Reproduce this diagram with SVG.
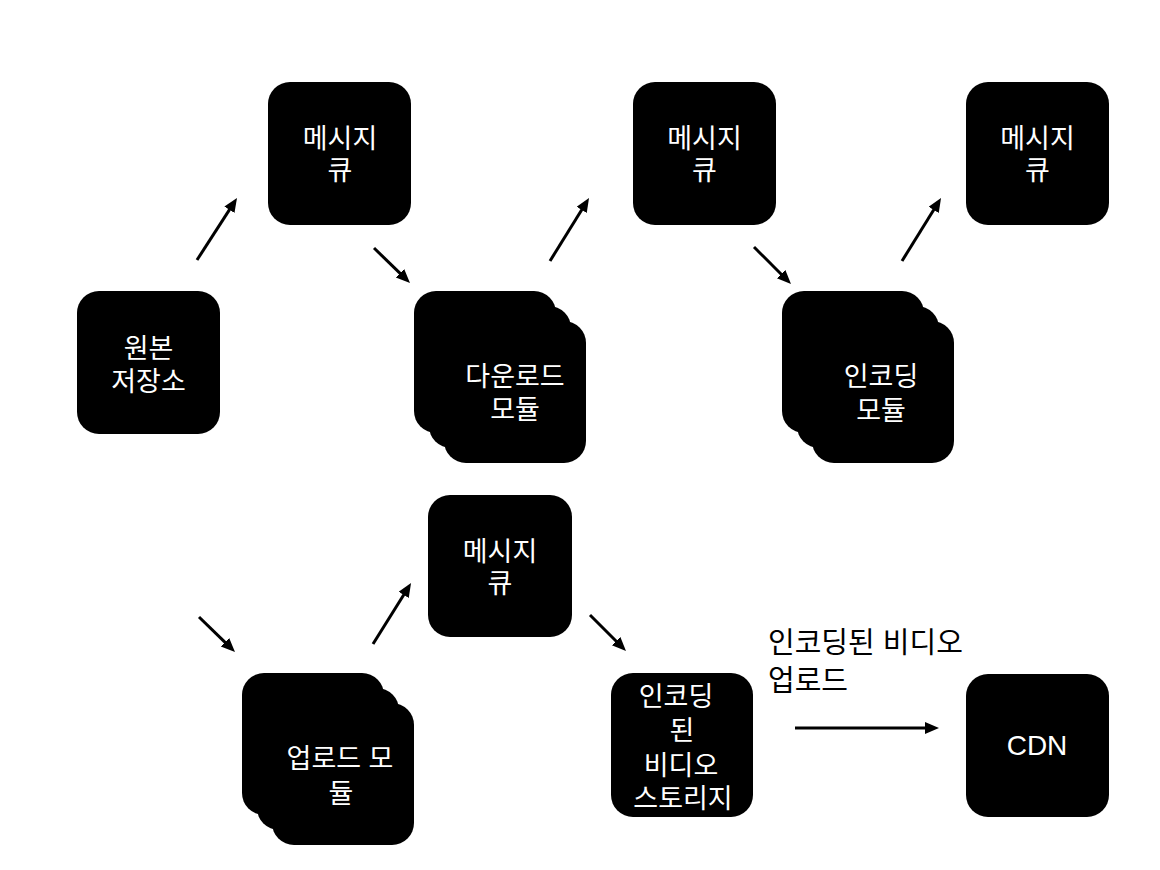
<svg xmlns="http://www.w3.org/2000/svg" width="1160" height="870" viewBox="0 0 1160 870">
<style>
.box{fill:#000}
.t{fill:#fff;font-family:"Liberation Sans","Noto Sans CJK KR",sans-serif;font-size:27px;text-anchor:middle;dominant-baseline:central}
.cdn{font-size:28px}
.lbl{fill:#000;font-family:"Liberation Sans","Noto Sans CJK KR",sans-serif;font-size:29px;dominant-baseline:central}
.c{stroke:#000;stroke-width:3;fill:none;marker-end:url(#ah)}
</style>
<defs>
<marker id="ah" markerUnits="userSpaceOnUse" markerWidth="16" markerHeight="14" refX="2" refY="6" orient="auto">
<path d="M0,0 L14,6 L0,12 z" fill="#000"/>
</marker>
</defs>
<rect width="1160" height="870" fill="#fff"/>
<g id="connectors">
<line class="c" x1="197" y1="260" x2="230.5" y2="208.1"/>
<line class="c" x1="374" y1="248" x2="401.4" y2="274.6"/>
<line class="c" x1="550" y1="261" x2="582.7" y2="208.2"/>
<line class="c" x1="754" y1="247" x2="782.5" y2="275.5"/>
<line class="c" x1="902" y1="261" x2="934.7" y2="208.2"/>
<line class="c" x1="199" y1="617" x2="226.4" y2="643.6"/>
<line class="c" x1="373" y1="644" x2="404.7" y2="593.2"/>
<line class="c" x1="590" y1="615" x2="617.5" y2="642.5"/>
<line class="c" x1="795" y1="728" x2="927" y2="728"/>
</g>
<g id="source-storage">
<rect class="box" x="77" y="291" width="143" height="143" rx="22"/>
<text class="t"><tspan x="148.5" y="348.5">원본</tspan><tspan x="148.5" y="382">저장소</tspan></text>
</g>
<g id="mq1">
<rect class="box" x="268" y="82" width="143" height="143" rx="22"/>
<text class="t"><tspan x="340" y="138.5">메시지</tspan><tspan x="340" y="170.5">큐</tspan></text>
</g>
<g id="mq2">
<rect class="box" x="633" y="82" width="143" height="143" rx="22"/>
<text class="t"><tspan x="704.5" y="138.5">메시지</tspan><tspan x="704.5" y="170.5">큐</tspan></text>
</g>
<g id="mq3">
<rect class="box" x="966" y="82" width="143" height="143" rx="22"/>
<text class="t"><tspan x="1037.5" y="138.5">메시지</tspan><tspan x="1037.5" y="170.5">큐</tspan></text>
</g>
<g id="download-module">
<rect class="box" x="444" y="321" width="142" height="142" rx="22"/>
<rect class="box" x="429" y="306" width="142" height="142" rx="22"/>
<rect class="box" x="414" y="291" width="142" height="142" rx="22"/>
<text class="t"><tspan x="515" y="377">다운로드</tspan><tspan x="515" y="410">모듈</tspan></text>
</g>
<g id="encode-module">
<rect class="box" x="812" y="321" width="142" height="142" rx="22"/>
<rect class="box" x="797" y="306" width="142" height="142" rx="22"/>
<rect class="box" x="782" y="291" width="142" height="142" rx="22"/>
<text class="t"><tspan x="881" y="377">인코딩</tspan><tspan x="881" y="411">모듈</tspan></text>
</g>
<g id="mq4">
<rect class="box" x="428" y="495" width="144" height="142" rx="22"/>
<text class="t"><tspan x="500" y="552">메시지</tspan><tspan x="500" y="584">큐</tspan></text>
</g>
<g id="upload-module">
<rect class="box" x="272" y="703" width="142" height="142" rx="22"/>
<rect class="box" x="257" y="688" width="142" height="142" rx="22"/>
<rect class="box" x="242" y="673" width="142" height="142" rx="22"/>
<text class="t"><tspan x="340" y="759">업로드 모</tspan><tspan x="341" y="794">듈</tspan></text>
</g>
<g id="encoded-video-storage">
<rect class="box" x="611" y="673" width="142" height="144" rx="22"/>
<text class="t"><tspan x="676" y="697">인코딩</tspan><tspan x="682" y="731">된</tspan><tspan x="681" y="766">비디오</tspan><tspan x="683" y="799">스토리지</tspan></text>
</g>
<g id="cdn">
<rect class="box" x="966" y="674" width="143" height="143" rx="22"/>
<text class="t cdn" x="1037" y="745">CDN</text>
</g>
<g id="edge-label">
<text class="lbl"><tspan x="768" y="643">인코딩된 비디오</tspan><tspan x="768" y="681">업로드</tspan></text>
</g>
</svg>
